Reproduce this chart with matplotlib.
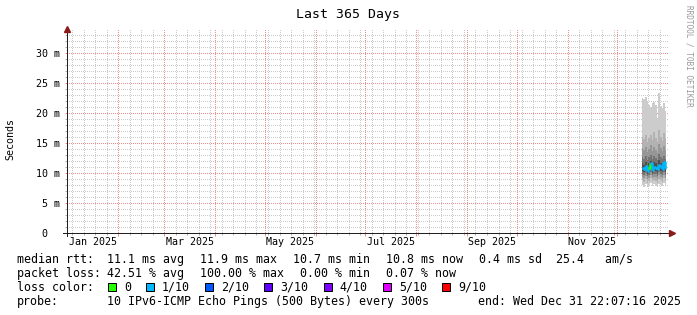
import numpy as np
import pandas as pd
import matplotlib
matplotlib.use('Agg')
import matplotlib.pyplot as plt
import matplotlib.dates as mdates
from matplotlib.patches import Rectangle

plt.rcParams['font.family'] = 'DejaVu Sans Mono'

W, H = 697, 315

# one smoke column per day, rtt in ms, the ten pings sorted low -> high
days = pd.date_range('2025-12-16', periods=15, freq='D')
ping1 = [8.0, 7.7, 8.2, 7.6, 7.9, 8.3, 7.8, 8.1, 7.9, 7.7, 8.2, 8.0, 7.8, 8.3, 7.9]
ping2 = [8.8, 8.5, 9.0, 8.4, 8.7, 9.1, 8.6, 8.9, 8.7, 8.4, 9.0, 8.8, 8.5, 9.1, 8.6]
ping3 = [9.3, 9.1, 9.5, 9.0, 9.2, 9.6, 9.1, 9.4, 9.3, 9.0, 9.6, 9.4, 9.1, 9.7, 9.2]
ping4 = [9.8, 9.6, 10.0, 9.5, 9.7, 10.1, 9.6, 9.9, 9.8, 9.5, 10.1, 9.9, 9.6, 10.2, 9.7]
ping5 = [10.3, 10.1, 10.5, 9.9, 10.2, 10.6, 10.0, 10.4, 10.3, 10.0, 10.6, 10.4, 10.1, 10.7, 10.2]
ping6 = [11.6, 11.4, 11.9, 11.3, 11.7, 12.0, 11.5, 11.8, 11.6, 11.2, 12.1, 11.7, 11.4, 11.9, 11.5]
ping7 = [12.6, 12.3, 12.9, 12.2, 12.7, 13.0, 12.4, 12.8, 12.5, 12.1, 13.2, 12.6, 12.3, 12.9, 12.4]
ping8 = [14.1, 13.8, 14.4, 13.5, 14.0, 14.6, 13.7, 14.3, 13.9, 13.4, 14.8, 14.2, 13.6, 14.5, 13.9]
ping9 = [16.0, 15.6, 16.4, 15.2, 15.8, 16.3, 15.5, 16.8, 15.9, 15.1, 17.2, 16.0, 15.4, 16.6, 15.8]
ping10 = [22.5, 22.3, 22.6, 22.0, 21.3, 21.0, 21.6, 21.8, 21.4, 19.2, 23.3, 21.2, 20.8, 21.6, 20.4]
median_rtt = [10.9, 10.6, 11.2, 10.4, 10.8, 11.6, 10.5, 11.0, 10.9, 10.6, 11.4, 11.0, 10.7, 11.8, 10.8]
lost = [1, 1, 1, 1, 0, 1, 1, 1, 1, 1, 1, 1, 1, 1, 1]   # lost pings out of 10

t_start = pd.Timestamp('2024-12-31 22:07:16')
t_end = pd.Timestamp('2025-12-31 22:07:16')

ytick_vals = [0, 5, 10, 15, 20, 25, 30]
ytick_labels = ['0', '5 m', '10 m', '15 m', '20 m', '25 m', '30 m']
xlabel_months = pd.date_range('2025-01-01', periods=6, freq='2MS')
xlabel_text = ['Jan 2025', 'Mar 2025', 'May 2025', 'Jul 2025', 'Sep 2025', 'Nov 2025']

loss_steps = [0, 1, 2, 3, 4, 5, 9]
loss_labels = ['0', '1/10', '2/10', '3/10', '4/10', '5/10', '9/10']
loss_colors = ['#26ff00', '#00b8ff', '#0059ff', '#5e00ff', '#7e00ff', '#dd00ff', '#ff0000']

rtt_stats = ['11.1 ms avg', '11.9 ms max', '10.7 ms min', '10.8 ms now', '0.4 ms sd  25.4   am/s']
loss_stats = ['42.51 % avg', '100.00 % max', ' 0.00 % min', '0.07 % now']
probe_text = '10 IPv6-ICMP Echo Pings (500 Bytes) every 300s'
end_text = 'end: Wed Dec 31 22:07:16 2025'

band_colors = ['#cccccc', '#b2b2b2', '#969696', '#747474', '#4e4e4e']
mgrid = '#ee8e8e'
grid = '#cbcbcb'
axis_col = '#202020'
arrow_col = '#8b1a1a'

fig = plt.figure(figsize=(W / 100, H / 100), dpi=100)
fig.patch.set_facecolor('white')
ax = fig.add_axes([67 / W, 1 - 233 / H, 601 / W, 203 / H])
ax.set_xlim(t_start, t_end)
ax.set_ylim(0, 203 / 6)
for s in ax.spines.values():
    s.set_visible(False)

# dotted rrdtool-style grid, drawn pixel by pixel into an image the size of the plot area
pw, ph = 601, 203
img = np.ones((ph, pw, 4))
img[..., 3] = 0
to_px = ax.transData.transform
x0_px, y0_px = to_px((mdates.date2num(t_start), 0))

def vline(d, rgb):
    c = int(round(to_px((mdates.date2num(d), 0))[0] - x0_px))
    if 0 < c < pw:
        img[0::2, c, :3] = rgb
        img[0::2, c, 3] = 1

def hline(v, rgb):
    r = ph - int(round(to_px((mdates.date2num(t_start), v))[1] - y0_px))
    if 0 <= r < ph:
        img[r, 0::2, :3] = rgb
        img[r, 0::2, 3] = 1

g_rgb = matplotlib.colors.to_rgb(grid)
m_rgb = matplotlib.colors.to_rgb(mgrid)
for d in pd.date_range('2025-01-04', t_end, freq='7D'):
    vline(d, g_rgb)
for v in range(1, 34):
    hline(v, m_rgb if v % 5 == 0 else g_rgb)
for d in pd.date_range('2025-01-01', t_end, freq='MS'):
    vline(d, m_rgb)
ax.imshow(img, extent=(mdates.date2num(t_start), mdates.date2num(t_end), 0, 203 / 6),
          aspect='auto', interpolation='nearest', origin='upper', zorder=0)
ax.set_xlim(t_start, t_end)
ax.set_ylim(0, 203 / 6)

# smoke
edges = list(days) + [days[-1] + pd.Timedelta(days=1)]
bands = [(ping1, ping10), (ping2, ping9), (ping3, ping8), (ping4, ping7), (ping5, ping6)]
for (lo, hi), c in zip(bands, band_colors):
    ax.fill_between(edges, lo + lo[-1:], hi + hi[-1:], step='post', color=c, lw=0, zorder=2)

# median line coloured by loss
for i in range(len(days)):
    c = loss_colors[loss_steps.index(lost[i])]
    x0, x1 = edges[i], edges[i + 1]
    nxt = median_rtt[i + 1] if i + 1 < len(days) else median_rtt[i]
    ax.plot([x0, x1, x1], [median_rtt[i], median_rtt[i], nxt], color=c, lw=1.8,
            solid_capstyle='butt', zorder=3)

# ticks
ax.set_xticks(pd.date_range('2025-01-01', t_end, freq='MS'))
ax.set_xticks(pd.date_range('2025-01-04', t_end, freq='7D'), minor=True)
ax.set_yticks(ytick_vals)
ax.set_yticks(range(1, 34), minor=True)
ax.tick_params(which='major', length=1.8, width=0.72, color=mgrid, labelbottom=False, labelleft=False)
ax.tick_params(which='minor', length=1.4, width=0.72, color='#b0b0b0')

# axes with arrows
ax.plot([-4 / 601, 1 + 3 / 601], [0, 0], transform=ax.transAxes, color=axis_col, lw=0.72,
        clip_on=False, zorder=4, snap=True)
ax.plot([0, 0], [-3 / 203, 1 + 1 / 203], transform=ax.transAxes, color=axis_col, lw=0.72,
        clip_on=False, zorder=4, snap=True)
ax.plot([1 + 3.5 / 601], [0], marker='>', ms=4, color=arrow_col, transform=ax.transAxes, clip_on=False, zorder=5)
ax.plot([0], [1 + 1.5 / 203], marker='^', ms=4, color=arrow_col, transform=ax.transAxes, clip_on=False, zorder=5)

# tick labels
for m, lab in zip(xlabel_months, xlabel_text):
    mid = m + (m + pd.offsets.MonthBegin(1) - m) / 2
    ax.text(mid, -12 / 203, lab, transform=ax.get_xaxis_transform(), ha='center', va='baseline', fontsize=7.2)
for v, lab in zip(ytick_vals, ytick_labels):
    s = lab if lab.endswith('m') else lab + '  '
    fig.text(36 / W, 1 - (233 - 6 * v) / H, s.rjust(4), ha='left', va='center_baseline', fontsize=7.2)

# titles
fig.text(348.5 / W, 1 - 18 / H, 'Last 365 Days', ha='center', va='baseline', fontsize=9.5)
fig.text(10 / W, 1 - 139 / H, 'Seconds', rotation=90, ha='center', va='center', fontsize=7.2)
fig.text(689 / W, 1 - 5 / H, 'RRDTOOL / TOBI OETIKER', rotation=270, ha='center', va='top',
         fontsize=5.6, color='#999999')

# legend
fs = 8.4
def row(y, head, items, x0=107, step=93):
    fig.text(17 / W, 1 - y / H, head, ha='left', va='baseline', fontsize=fs)
    for k, t in enumerate(items):
        fig.text((x0 + step * k) / W, 1 - y / H, t, ha='left', va='baseline', fontsize=fs)

row(263, 'median rtt:', rtt_stats)
row(277, 'packet loss:', loss_stats)
fig.text(17 / W, 1 - 291 / H, 'loss color:', ha='left', va='baseline', fontsize=fs)
bx = 108
for lab, c in zip(loss_labels, loss_colors):
    fig.patches.append(Rectangle((bx / W, 1 - 291 / H), 8 / W, 8 / H, transform=fig.transFigure,
                                 facecolor=c, edgecolor='black', lw=0.72))
    fig.text((bx + 16) / W, 1 - 291 / H, lab, ha='left', va='baseline', fontsize=fs)
    bx += 31 + 7.05 * len(lab)
row(305, 'probe:', [probe_text])
fig.text(681 / W, 1 - 305 / H, end_text, ha='right', va='baseline', fontsize=fs)

fig.savefig('out.png', dpi=100, facecolor='white')
